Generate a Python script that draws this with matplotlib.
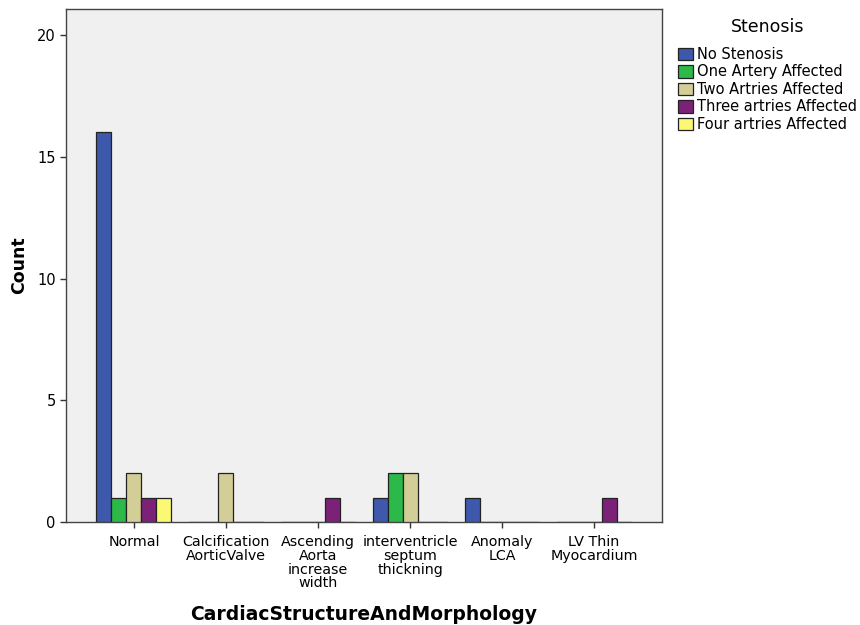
import numpy as np
import matplotlib
matplotlib.use("Agg")
import matplotlib.pyplot as plt
from matplotlib.patches import Patch

plt.rcParams["font.family"] = ["DejaVu Sans"]

categories = [
    "Normal",
    "Calcification\nAorticValve",
    "Ascending\nAorta\nincrease\nwidth",
    "interventricle\nseptum\nthickning",
    "Anomaly\nLCA",
    "LV Thin\nMyocardium",
]
series_names = [
    "No Stenosis",
    "One Artery Affected",
    "Two Artries Affected",
    "Three artries Affected",
    "Four artries Affected",
]
no_stenosis = [16, 0, 0, 1, 1, 0]
one_artery = [1, 0, 0, 2, 0, 0]
two_arteries = [2, 2, 0, 2, 0, 0]
three_arteries = [1, 0, 1, 0, 0, 1]
four_arteries = [1, 0, 0, 0, 0, 0]
counts = [no_stenosis, one_artery, two_arteries, three_arteries, four_arteries]
colors = ["#3e58ac", "#2db84a", "#d3ce97", "#7b2278", "#fbf873"]

fig = plt.figure(figsize=(8.6, 6.25), dpi=100)
ax = fig.add_axes([66 / 860, 1 - 522 / 625, 596 / 860, 513 / 625])
ax.set_facecolor("#f0f0f0")

x = np.arange(len(categories))
width = 0.163
for i, (vals, col) in enumerate(zip(counts, colors)):
    offset = (i - 2) * width
    ax.bar(x + offset, vals, width=width, color=col, edgecolor="#222222",
           linewidth=0.9, zorder=3)

ax.set_xlim(-0.739, 5.739)
ax.set_ylim(0, 21.07)
ax.set_yticks([0, 5, 10, 15, 20])
ax.set_xticks(x)
ax.set_xticklabels(categories, fontsize=10.3, linespacing=0.97)
ax.tick_params(axis="both", direction="out", length=4, width=1, color="#333333")
ax.tick_params(axis="x", pad=5.5)
ax.tick_params(axis="y", labelsize=10.5)
for s in ax.spines.values():
    s.set_color("#444444")
    s.set_linewidth(1)

ax.set_ylabel("Count", fontsize=12.5, fontweight="bold", labelpad=6)
fig.text(364 / 860, 1 - 614 / 625, "CardiacStructureAndMorphology",
         fontsize=13.5, fontweight="bold", ha="center", va="center")

# legend title drawn separately so the gap under it matches the original
fig.text(768 / 860, 1 - 27 / 625, "Stenosis", fontsize=12.5,
         ha="center", va="center")
handles = [Patch(facecolor=c, edgecolor="#222222", linewidth=0.9) for c in colors]
leg = fig.legend(handles, series_names, loc="upper left",
                 bbox_to_anchor=(678 / 860, 1 - 47 / 625), frameon=False,
                 fontsize=10.5, handlelength=1.0, handleheight=0.95,
                 handletextpad=0.3, labelspacing=0.17,
                 borderpad=0, borderaxespad=0)

fig.savefig("out.png", dpi=100)
